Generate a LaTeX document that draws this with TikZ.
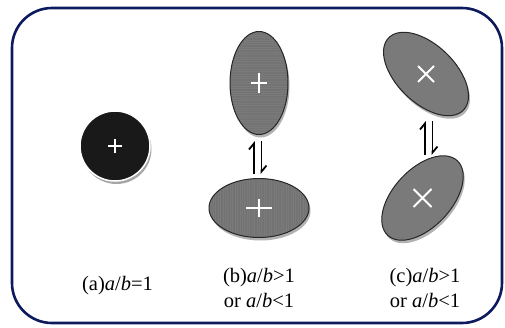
\documentclass[tikz,border=0pt]{standalone}
\usepackage{fontspec}
\setmainfont{Liberation Serif}
\usetikzlibrary{shapes.geometric,arrows.meta,patterns.meta,shadows}
\definecolor{navyb}{HTML}{0D1A5E}
\definecolor{ellgray}{HTML}{7A7A7A}
\begin{document}
\begin{tikzpicture}[x=1pt,y=-1pt,
  frame/.style={draw=navyb,line width=2.6pt,rounded corners=40pt},
  shad/.style={drop shadow={shadow xshift=1.5pt,shadow yshift=-3pt,opacity=.3,fill=black}},
  ell/.style={ellipse,draw=black!85,line width=1pt,inner sep=0pt,shad},
  hlines/.style={ell,preaction={fill=ellgray},pattern={Lines[angle=0,distance=1.7pt,line width=0.55pt]},pattern color=black!55},
  vlines/.style={ell,preaction={fill=ellgray},pattern={Lines[angle=90,distance=1.7pt,line width=0.55pt]},pattern color=black!55},
  dots/.style={ell,fill=ellgray},
  whitecross/.style={draw=white,line width=1.8pt},
  harp/.style={line width=1.8pt,-{Straight Barb[left,length=6pt,width=10pt]}},
  lab/.style={font=\fontsize{20.5}{25}\selectfont,inner sep=0pt,align=center}
]
\useasboundingbox (0,0) rectangle (505,327);
\draw[frame] (12,8) rectangle (502,323);

% (a)
\node[circle,fill=black!90,draw=white,line width=1.5pt,minimum size=70pt,inner sep=0pt,
  drop shadow={shadow xshift=1.5pt,shadow yshift=-3pt,opacity=.35,fill=black}] (ca) at (115,146) {};
\draw[white,line width=1.5pt] ([xshift=-7pt]ca.center) -- ([xshift=7pt]ca.center)
  ([yshift=-7pt]ca.center) -- ([yshift=7pt]ca.center);

% (b)
\node[hlines,minimum width=58pt,minimum height=103pt] (bt) at (259,83) {};
\draw[whitecross] ([xshift=-8pt]bt.center) -- ([xshift=8pt]bt.center)
  ([yshift=-10pt]bt.center) -- ([yshift=10pt]bt.center);
\node[vlines,minimum width=100pt,minimum height=59pt] (bb) at (259,208) {};
\draw[whitecross] ([xshift=-13pt]bb.center) -- ([xshift=13pt]bb.center)
  ([yshift=-9pt]bb.center) -- ([yshift=9pt]bb.center);
\coordinate (bl1) at (254,174); \coordinate (bl2) at (254,141);
\coordinate (br1) at (261.5,141); \coordinate (br2) at (261.5,174);
\draw[harp] (bl1) -- (bl2);
\draw[harp] (br1) -- (br2);

% (c)
\node[dots,minimum width=104pt,minimum height=58pt,rotate=-44] (ct) at (426,74) {};
\draw[whitecross] ([shift={(-8pt,-8pt)}]ct.center) -- ([shift={(8pt,8pt)}]ct.center)
  ([shift={(-8pt,8pt)}]ct.center) -- ([shift={(8pt,-8pt)}]ct.center);
\node[dots,minimum width=102pt,minimum height=58pt,rotate=47] (cb) at (422.5,198) {};
\draw[whitecross] ([shift={(-9pt,-9pt)}]cb.center) -- ([shift={(9pt,9pt)}]cb.center)
  ([shift={(-9pt,9pt)}]cb.center) -- ([shift={(9pt,-9pt)}]cb.center);
\coordinate (cl1) at (425,155); \coordinate (cl2) at (425,121);
\coordinate (cr1) at (432.5,121); \coordinate (cr2) at (432.5,155);
\draw[harp] (cl1) -- (cl2);
\draw[harp] (cr1) -- (cr2);

% labels
\node[lab,anchor=base] (la) at (117.5,290) {(a)\textit{a}/\textit{b}=1};
\node[lab,anchor=base] (lb) at (259,307) {(b)\textit{a}/\textit{b}>1\\or \textit{a}/\textit{b}<1};
\node[lab,anchor=base] (lc) at (425,307) {(c)\textit{a}/\textit{b}>1\\or \textit{a}/\textit{b}<1};
\end{tikzpicture}
\end{document}
